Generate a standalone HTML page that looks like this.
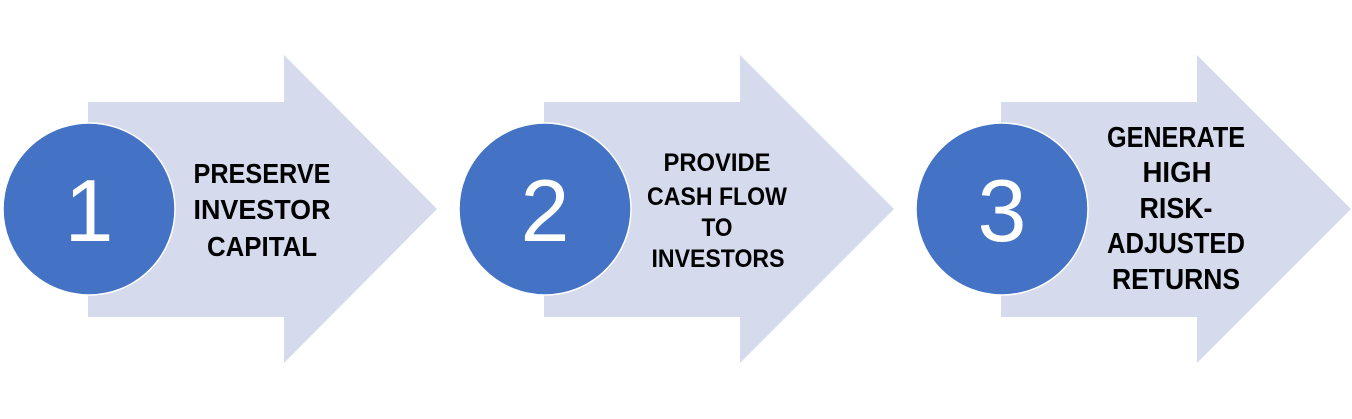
<!DOCTYPE html>
<html><head><meta charset="utf-8"><style>
html,body{margin:0;padding:0;background:#fff;}
svg{display:block;}
text{font-family:"Liberation Sans",sans-serif;}
.t{font-weight:bold;font-size:28px;fill:#000;text-anchor:middle;}
.t3{font-weight:bold;font-size:29px;fill:#000;text-anchor:middle;}
.t2{font-weight:bold;font-size:25px;fill:#000;text-anchor:middle;}
.n{font-size:88px;fill:#fff;text-anchor:middle;}
</style></head><body>
<svg width="1352" height="419" viewBox="0 0 1352 419">
<g fill="#D5DAEC">
<polygon points="88,102 284,102 284,55 437,209 284,363 284,317 88,317"/>
<polygon points="544,102 740,102 740,55 894,209 740,363 740,317 544,317"/>
<polygon points="1001,102 1197,102 1197,55 1351,209 1197,363 1197,317 1001,317"/>
</g>
<g fill="#4472C4" stroke="#fff" stroke-width="1.5">
<circle cx="89" cy="209" r="86"/>
<circle cx="545" cy="209" r="86"/>
<circle cx="1002" cy="209" r="86"/>
</g>
<text class="n" x="89" y="241">1</text>
<text class="n" x="545" y="241">2</text>
<text class="n" x="1002" y="241">3</text>
<text class="t" x="262" y="183" textLength="137" lengthAdjust="spacingAndGlyphs">PRESERVE</text>
<text class="t" x="262" y="219" textLength="137" lengthAdjust="spacingAndGlyphs">INVESTOR</text>
<text class="t" x="262" y="256" textLength="110" lengthAdjust="spacingAndGlyphs">CAPITAL</text>
<text class="t2" x="717" y="171" textLength="107" lengthAdjust="spacingAndGlyphs">PROVIDE</text>
<text class="t2" x="717" y="205" textLength="140" lengthAdjust="spacingAndGlyphs">CASH FLOW</text>
<text class="t2" x="717" y="236" textLength="31" lengthAdjust="spacingAndGlyphs">TO</text>
<text class="t2" x="718" y="267" textLength="133" lengthAdjust="spacingAndGlyphs">INVESTORS</text>
<text class="t3" x="1176" y="147" textLength="138" lengthAdjust="spacingAndGlyphs">GENERATE</text>
<text class="t3" x="1177" y="182" textLength="69" lengthAdjust="spacingAndGlyphs">HIGH</text>
<text class="t3" x="1176" y="218" textLength="73" lengthAdjust="spacingAndGlyphs">RISK-</text>
<text class="t3" x="1176" y="253" textLength="138" lengthAdjust="spacingAndGlyphs">ADJUSTED</text>
<text class="t3" x="1176" y="289" textLength="128" lengthAdjust="spacingAndGlyphs">RETURNS</text>
</svg>
</body></html>
